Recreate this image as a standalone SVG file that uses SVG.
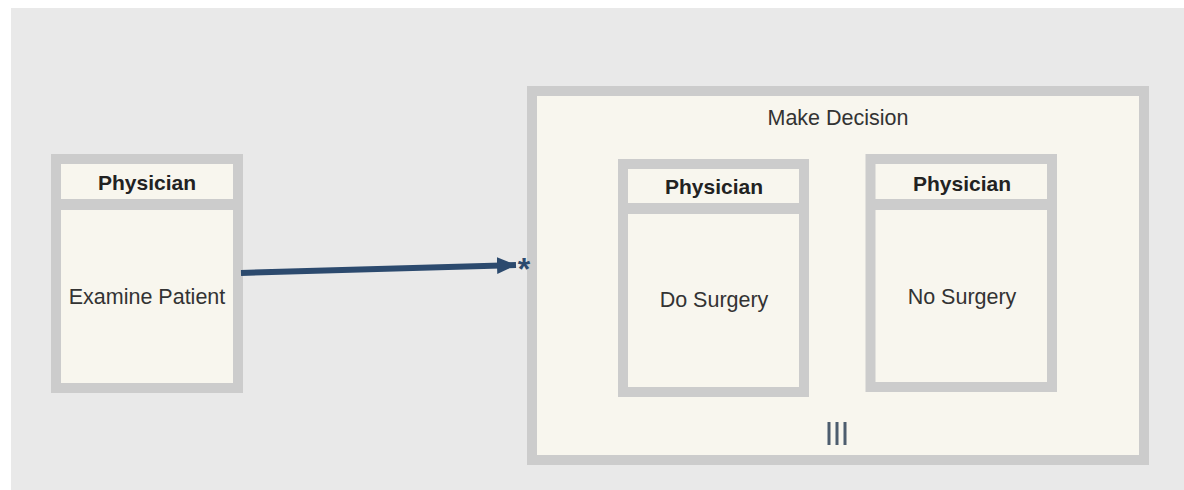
<svg xmlns="http://www.w3.org/2000/svg" width="1184" height="490" viewBox="0 0 1184 490">
  <style>
    .box { fill: #f8f6ee; stroke: #cccccc; stroke-width: 10; }
    .sep { stroke: #cccccc; stroke-width: 11; }
    text { font-family: 'Liberation Sans', Helvetica, sans-serif; }
    .hdr { font-size: 21px; font-weight: bold; fill: #222222; text-anchor: middle; }
    .lbl { font-size: 21.5px; fill: #333333; text-anchor: middle; }
    .flow { stroke: #2c4a6e; stroke-width: 6; fill: none; }
  </style>
  <defs>
    <marker id="arrow" markerUnits="userSpaceOnUse" markerWidth="22" markerHeight="20" refX="19" refY="9" orient="auto">
      <path d="M0,0.5 L19,9 L0,17.5 Z" fill="#2c4a6e"/>
    </marker>
  </defs>

  <!-- canvas -->
  <rect x="0" y="0" width="1184" height="490" fill="#ffffff"/>
  <rect x="11" y="8" width="1173" height="482" fill="#e9e9e9"/>

  <!-- subprocess: Make Decision -->
  <g id="make-decision">
    <rect class="box" x="532" y="91" width="612" height="369"/>
    <text class="lbl" x="838" y="125">Make Decision</text>
    <g fill="#4d5d6e">
      <rect x="827.5" y="422" width="3" height="23"/>
      <rect x="835.5" y="422" width="3" height="23"/>
      <rect x="843.5" y="422" width="3" height="23"/>
    </g>
  </g>

  <!-- task: Examine Patient -->
  <g id="examine-patient">
    <rect class="box" x="56" y="159" width="182" height="229"/>
    <line class="sep" x1="56" y1="204.5" x2="238" y2="204.5"/>
    <text class="hdr" x="147" y="190">Physician</text>
    <text class="lbl" x="147" y="304">Examine Patient</text>
  </g>

  <!-- task: Do Surgery -->
  <g id="do-surgery">
    <rect class="box" x="623" y="164" width="181" height="228"/>
    <line class="sep" x1="623" y1="208.5" x2="804" y2="208.5"/>
    <text class="hdr" x="714" y="194">Physician</text>
    <text class="lbl" x="714" y="307">Do Surgery</text>
  </g>

  <!-- task: No Surgery -->
  <g id="no-surgery">
    <rect class="box" x="870.5" y="159" width="181.5" height="228"/>
    <line class="sep" x1="870.5" y1="204.5" x2="1052" y2="204.5"/>
    <text class="hdr" x="962" y="191">Physician</text>
    <text class="lbl" x="962" y="304">No Surgery</text>
  </g>

  <!-- connectors -->
  <g id="connectors">
    <line class="flow" x1="241" y1="273" x2="516" y2="265" marker-end="url(#arrow)"/>
    <text x="524" y="280" font-size="32" font-weight="bold" fill="#2c4a6e" text-anchor="middle">*</text>
  </g>
</svg>
